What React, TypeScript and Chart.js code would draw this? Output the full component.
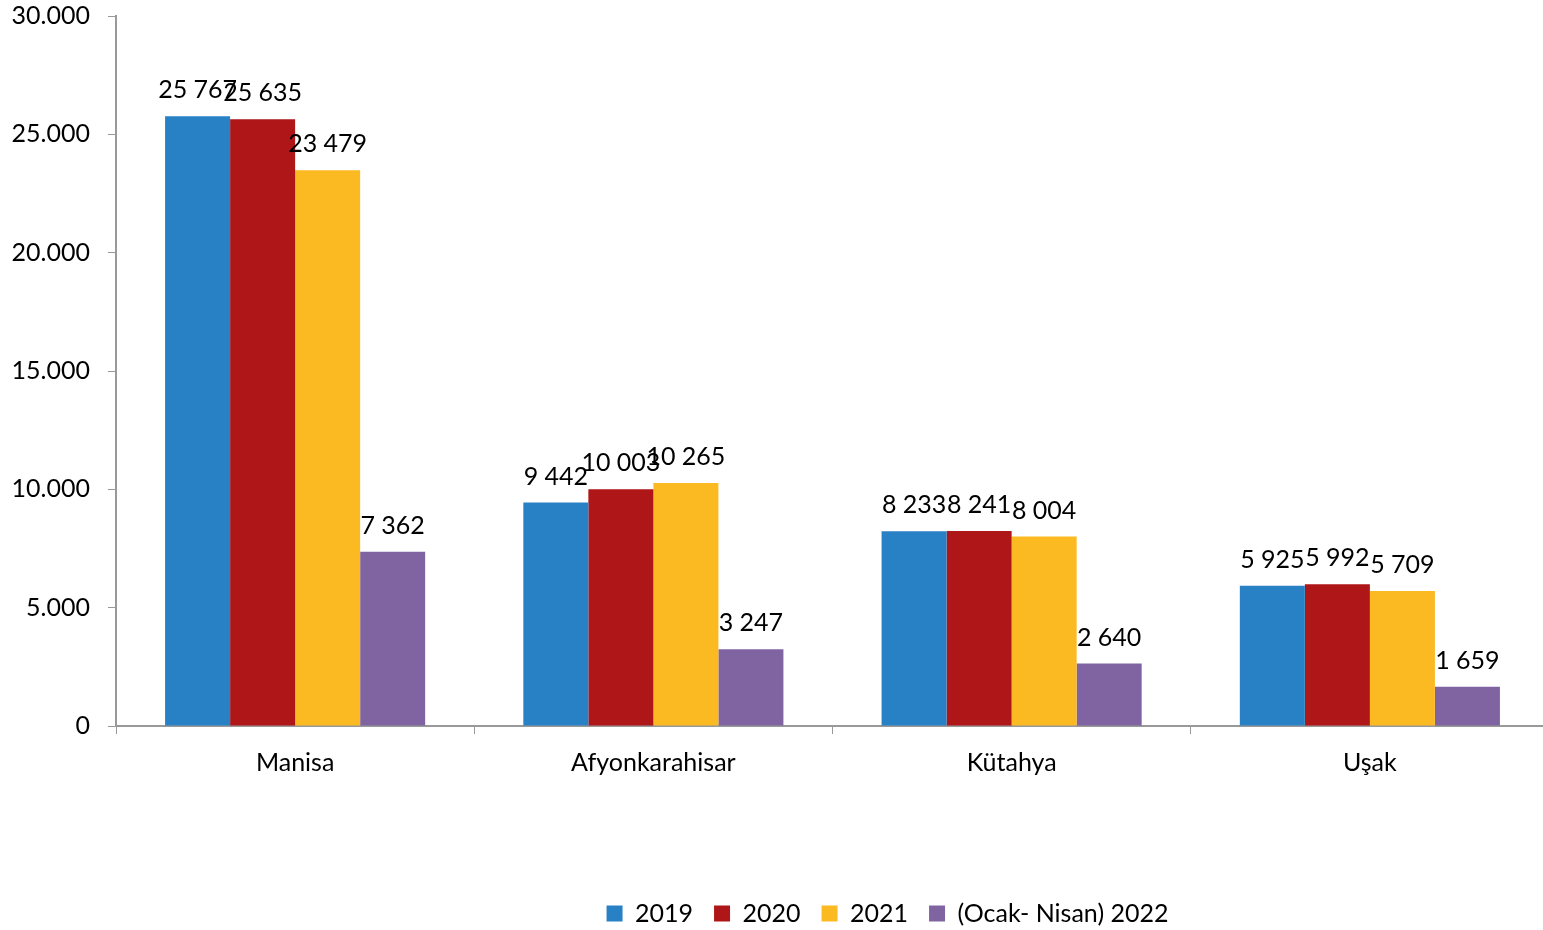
import React, { useEffect, useRef } from "react";
import { Chart, registerables } from "chart.js";

Chart.register(...registerables);

const categories = ["Manisa", "Afyonkarahisar", "Kütahya", "Uşak"];
const seriesNames = ["2019", "2020", "2021", "(Ocak- Nisan) 2022"];
const values2019 = [25767, 9442, 8233, 5925];
const values2020 = [25635, 10003, 8241, 5992];
const values2021 = [23479, 10265, 8004, 5709];
const values2022 = [7362, 3247, 2640, 1659];
const colors = ["#2880C5", "#AE1618", "#FBB922", "#8064A2"];

const FONT = "Lato";
const FS = 25;
const LEGEND_SHIFT = 113;

const fmtSpace = (v: number) => String(v).replace(/\B(?=(\d{3})+(?!\d))/g, " ");
const fmtDot = (v: number) => String(v).replace(/\B(?=(\d{3})+(?!\d))/g, ".");

const labelPlugin = {
  id: "barLabels",
  afterInit(chart: any) {
    const lg = chart.legend;
    if (lg && !lg.__shifted) {
      const orig = lg.draw.bind(lg);
      lg.draw = function () {
        const c = chart.ctx;
        c.save();
        c.translate(LEGEND_SHIFT, 0);
        orig();
        c.restore();
      };
      lg.__shifted = true;
    }
  },
  afterDatasetsDraw(chart: any) {
    const ctx = chart.ctx;
    ctx.save();
    ctx.font = `${FS}px ${FONT}`;
    ctx.fillStyle = "#000";
    ctx.textAlign = "center";
    ctx.textBaseline = "alphabetic";
    chart.data.datasets.forEach((ds: any, i: number) => {
      const meta = chart.getDatasetMeta(i);
      meta.data.forEach((bar: any, j: number) => {
        ctx.fillText(fmtSpace(ds.data[j]), bar.x, bar.y - 18);
      });
    });
    ctx.restore();
  },
};

export default function App() {
  const ref = useRef<HTMLCanvasElement>(null);
  useEffect(() => {
    const data = [values2019, values2020, values2021, values2022];
    const chart = new Chart(ref.current!, {
      type: "bar",
      data: {
        labels: categories,
        datasets: seriesNames.map((n, i) => ({
          label: n,
          data: data[i],
          backgroundColor: colors[i],
          borderWidth: 0,
          categoryPercentage: 0.726,
          barPercentage: 1,
        })),
      },
      options: {
        animation: false,
        responsive: true,
        maintainAspectRatio: false,
        layout: { padding: { top: 16, right: 0, left: 0, bottom: -6 } },
        plugins: {
          legend: {
            position: "bottom",
            labels: {
              font: { family: FONT, size: FS },
              color: "#000",
              boxWidth: 16,
              boxHeight: 16,
              padding: 21,
            },
          },
          tooltip: { enabled: false },
        },
        scales: {
          x: {
            grid: { drawOnChartArea: false, drawTicks: true, tickLength: 8, color: "#999", offset: true },
            border: { color: "#999", width: 2 },
            ticks: { font: { family: FONT, size: FS }, color: "#000", padding: 14 },
            afterFit: (s: any) => { s.height = 154; s.paddingLeft = 0; s.paddingRight = 0; },
          },
          y: {
            min: 0,
            max: 30000,
            grid: { drawOnChartArea: false, drawTicks: true, tickLength: 8, color: "#999" },
            border: { color: "#999", width: 2 },
            ticks: {
              stepSize: 5000,
              font: { family: FONT, size: FS },
              color: "#000",
              padding: 18,
              callback: (v: any) => fmtDot(Number(v)),
            },
            afterFit: (s: any) => { s.width = 116; s.paddingTop = 0; s.paddingBottom = 0; },
          },
        },
      },
      plugins: [labelPlugin],
    });
    return () => chart.destroy();
  }, []);
  return (
    <div style={{ position: "fixed", left: 0, top: 0, width: 1549, height: 930 }}>
      <canvas ref={ref} />
    </div>
  );
}
